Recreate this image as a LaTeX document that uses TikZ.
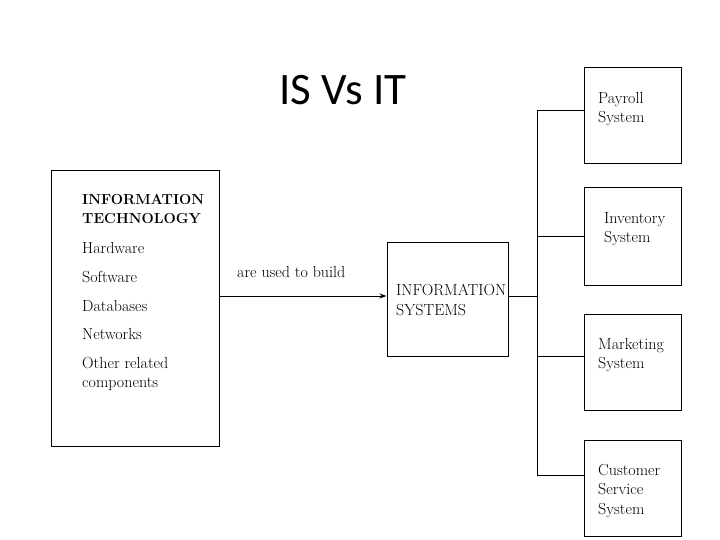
\documentclass[tikz,border=0pt]{standalone}
\usepackage{fontspec}
\newfontfamily\titlefont{Carlito}
\usetikzlibrary{arrows.meta}
\begin{document}
\begin{tikzpicture}[x=1pt,y=-1pt,
  box/.style={draw,line width=1pt,rectangle,inner sep=0pt},
  txt/.style={anchor=north west,align=left,inner sep=0pt,font=\fontsize{16}{19.5}\selectfont},
  conn/.style={line width=1pt}]
\useasboundingbox (0,0) rectangle (720,540);
\node[font=\titlefont\fontsize{45}{48}\selectfont] (title) at (343,90) {IS Vs IT};
% boxes
\node[box,minimum width=168pt,minimum height=275pt] (it) at (135,308.5) {};
\node[box,minimum width=121pt,minimum height=114pt] (is) at (447.5,299) {};
\node[box,minimum width=97pt,minimum height=96pt] (pay) at (632.5,116) {};
\node[box,minimum width=97pt,minimum height=97pt] (inv) at (632.5,236.5) {};
\node[box,minimum width=97pt,minimum height=96pt] (mkt) at (632.5,362) {};
\node[box,minimum width=97pt,minimum height=96pt] (cus) at (632.5,488) {};
% texts
\node[txt,font=\fontsize{14.5}{19.5}\selectfont] (itt) at (82,194) {\textbf{INFORMATION}\\\textbf{TECHNOLOGY}};
\node[txt] (hw) at (82,242) {Hardware};
\node[txt] (sw) at (82,271) {Software};
\node[txt] (db) at (82,300) {Databases};
\node[txt] (nw) at (82,328) {Networks};
\node[txt] (oth) at (82,357) {Other related\\components};
\node[txt] (lab) at (237,266) {are used to build};
\node[txt] (ist) at (396,284) {INFORMATION\\SYSTEMS};
\node[txt] (payt) at (598,92) {Payroll\\System};
\node[txt] (invt) at (604,212) {Inventory\\System};
\node[txt] (mktt) at (598,338) {Marketing\\System};
\node[txt] (cust) at (598,464) {Customer\\Service\\System};
% connectors
\coordinate (a) at (219,296);
\draw[conn,-{Stealth[length=7pt,width=5pt]}] (a) -- (is.west |- a);
\coordinate (j) at (537,296);
\draw[conn] (is.east |- j) -- (j);
\coordinate (jp) at (537,111);
\coordinate (ji) at (537,236);
\coordinate (jm) at (537,356);
\coordinate (jc) at (537,475);
\draw[conn] (jp) -- (jc);
\draw[conn] (jp) -- (jp -| pay.west);
\draw[conn] (ji) -- (ji -| inv.west);
\draw[conn] (jm) -- (jm -| mkt.west);
\draw[conn] (jc) -- (jc -| cus.west);
\end{tikzpicture}
\end{document}
